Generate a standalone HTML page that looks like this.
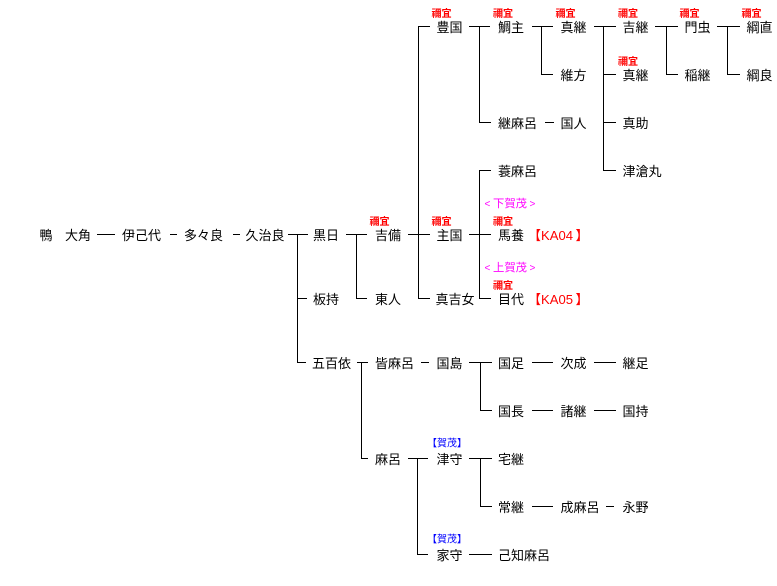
<!DOCTYPE html>
<html>
<head>
<meta charset="utf-8">
<style>
html,body{margin:0;padding:0;background:#fff;}
svg{display:block;}
text{font-family:"Liberation Sans","Noto Sans CJK JP",sans-serif;}
.m{font-size:13px;fill:#000;}
.n{font-size:10px;font-weight:bold;fill:#ff0000;}
.k{font-size:10px;fill:#0000ff;}
.p{font-size:11px;fill:#ff00ff;}
.pa{font-size:10px;fill:#ff00ff;}
.r{font-size:13px;fill:#ff0000;}
</style>
</head>
<body>
<svg width="777" height="586" viewBox="0 0 777 586" xmlns="http://www.w3.org/2000/svg">
<g fill="#000">
<!-- r4 234 -->
<rect x="97" y="234" width="18" height="1"/>
<rect x="170" y="234" width="7" height="1"/>
<rect x="233" y="234" width="7" height="1"/>
<rect x="288" y="234" width="20" height="1"/>
<rect x="346" y="234" width="21" height="1"/>
<rect x="408" y="234" width="22" height="1"/>
<rect x="469" y="234" width="22" height="1"/>
<!-- r5 298 -->
<rect x="297" y="298" width="10" height="1"/>
<rect x="356" y="298" width="11" height="1"/>
<rect x="418" y="298" width="12" height="1"/>
<rect x="479" y="298" width="12" height="1"/>
<!-- r0 26 -->
<rect x="418" y="26" width="12" height="1"/>
<rect x="469" y="26" width="21" height="1"/>
<rect x="532" y="26" width="21" height="1"/>
<rect x="594" y="26" width="22" height="1"/>
<rect x="655" y="26" width="23" height="1"/>
<rect x="717" y="26" width="23" height="1"/>
<!-- r1 74 -->
<rect x="541" y="74" width="12" height="1"/>
<rect x="603" y="74" width="13" height="1"/>
<rect x="666" y="74" width="12" height="1"/>
<rect x="727" y="74" width="13" height="1"/>
<!-- r2 122 -->
<rect x="479" y="122" width="12" height="1"/>
<rect x="545" y="122" width="9" height="1"/>
<rect x="603" y="122" width="13" height="1"/>
<!-- r3 170 -->
<rect x="479" y="170" width="12" height="1"/>
<rect x="603" y="170" width="13" height="1"/>
<!-- r6 362 -->
<rect x="297" y="362" width="9" height="1"/>
<rect x="357" y="362" width="11" height="1"/>
<rect x="421" y="362" width="8" height="1"/>
<rect x="469" y="362" width="23" height="1"/>
<rect x="532" y="362" width="21" height="1"/>
<rect x="594" y="362" width="22" height="1"/>
<!-- r7 410 -->
<rect x="480" y="410" width="12" height="1"/>
<rect x="532" y="410" width="21" height="1"/>
<rect x="594" y="410" width="22" height="1"/>
<!-- r8 458 -->
<rect x="361" y="458" width="7" height="1"/>
<rect x="408" y="458" width="20" height="1"/>
<rect x="469" y="458" width="23" height="1"/>
<!-- r9 506 -->
<rect x="480" y="506" width="12" height="1"/>
<rect x="532" y="506" width="21" height="1"/>
<rect x="606" y="506" width="8" height="1"/>
<!-- r10 554 -->
<rect x="417" y="554" width="11" height="1"/>
<rect x="469" y="554" width="23" height="1"/>
<!-- verticals -->
<rect x="297" y="234" width="1" height="129"/>
<rect x="356" y="234" width="1" height="65"/>
<rect x="418" y="26" width="1" height="273"/>
<rect x="479" y="26" width="1" height="97"/>
<rect x="541" y="26" width="1" height="49"/>
<rect x="603" y="26" width="1" height="145"/>
<rect x="666" y="26" width="1" height="49"/>
<rect x="727" y="26" width="1" height="49"/>
<rect x="479" y="170" width="1" height="129"/>
<rect x="361" y="362" width="1" height="97"/>
<rect x="480" y="362" width="1" height="49"/>
<rect x="417" y="458" width="1" height="97"/>
<rect x="480" y="458" width="1" height="49"/>
</g>

<!-- main names -->
<g class="m">
<text class="m" x="39.5" y="240">鴨</text>
<text class="m" x="65" y="240">大角</text>
<text class="m" x="122" y="240">伊己代</text>
<text class="m" x="184" y="240">多々良</text>
<text class="m" x="245.5" y="240">久治良</text>
<text class="m" x="313" y="240">黒日</text>
<text class="m" x="375" y="240">吉備</text>
<text class="m" x="436.5" y="240">主国</text>
<text class="m" x="498" y="240">馬養</text>

<text class="m" x="313" y="304">板持</text>
<text class="m" x="375" y="304">東人</text>
<text class="m" x="435.5" y="304">真吉女</text>
<text class="m" x="498" y="304">目代</text>

<text class="m" x="436.5" y="32">豊国</text>
<text class="m" x="498" y="32">鯛主</text>
<text class="m" x="560.5" y="32">真継</text>
<text class="m" x="622.5" y="32">吉継</text>
<text class="m" x="684.5" y="32">門虫</text>
<text class="m" x="746.5" y="32">綱直</text>

<text class="m" x="560.5" y="80">維方</text>
<text class="m" x="622.5" y="80">真継</text>
<text class="m" x="684.5" y="80">稲継</text>
<text class="m" x="746.5" y="80">綱良</text>

<text class="m" x="498" y="128">継麻呂</text>
<text class="m" x="560.5" y="128">国人</text>
<text class="m" x="622.5" y="128">真助</text>

<text class="m" x="498" y="176">蓑麻呂</text>
<text class="m" x="622.5" y="176">津滄丸</text>

<text class="m" x="312" y="368">五百依</text>
<text class="m" x="375" y="368">皆麻呂</text>
<text class="m" x="436.5" y="368">国島</text>
<text class="m" x="498" y="368">国足</text>
<text class="m" x="560.5" y="368">次成</text>
<text class="m" x="622.5" y="368">継足</text>

<text class="m" x="498" y="416">国長</text>
<text class="m" x="560.5" y="416">諸継</text>
<text class="m" x="622.5" y="416">国持</text>

<text class="m" x="375" y="464">麻呂</text>
<text class="m" x="436.5" y="464">津守</text>
<text class="m" x="498" y="464">宅継</text>

<text class="m" x="498" y="512">常継</text>
<text class="m" x="560.5" y="512">成麻呂</text>
<text class="m" x="622.5" y="512">永野</text>

<text class="m" x="436.5" y="560">家守</text>
<text class="m" x="498" y="560">己知麻呂</text>
</g>

<!-- 禰宜 labels -->
<text class="n" x="369.5" y="225">禰宜</text>
<text class="n" x="431.5" y="225">禰宜</text>
<text class="n" x="493" y="225">禰宜</text>
<text class="n" x="493" y="289">禰宜</text>
<text class="n" x="431.5" y="17">禰宜</text>
<text class="n" x="493" y="17">禰宜</text>
<text class="n" x="555.5" y="17">禰宜</text>
<text class="n" x="618" y="17">禰宜</text>
<text class="n" x="679.5" y="17">禰宜</text>
<text class="n" x="741.5" y="17">禰宜</text>
<text class="n" x="618" y="65">禰宜</text>

<!-- 賀茂 labels -->
<text class="k" x="427" y="446.5">【賀茂】</text>
<text class="k" x="427" y="542.5">【賀茂】</text>

<!-- 下賀茂 / 上賀茂 -->
<text class="pa" x="484.5" y="207">&lt;</text>
<text class="p" x="493" y="207.2" textLength="34" lengthAdjust="spacingAndGlyphs">下賀茂</text>
<text class="pa" x="529.5" y="207">&gt;</text>
<text class="pa" x="484.5" y="271">&lt;</text>
<text class="p" x="493" y="271.2" textLength="34" lengthAdjust="spacingAndGlyphs">上賀茂</text>
<text class="pa" x="529.5" y="271">&gt;</text>

<!-- KA codes -->
<text class="r" x="528" y="240">【</text>
<text class="r" x="541" y="240" textLength="32" lengthAdjust="spacingAndGlyphs">KA04</text>
<text class="r" x="575.5" y="240">】</text>
<text class="r" x="528" y="304">【</text>
<text class="r" x="541" y="304" textLength="32" lengthAdjust="spacingAndGlyphs">KA05</text>
<text class="r" x="575.5" y="304">】</text>
</svg>
</body>
</html>
